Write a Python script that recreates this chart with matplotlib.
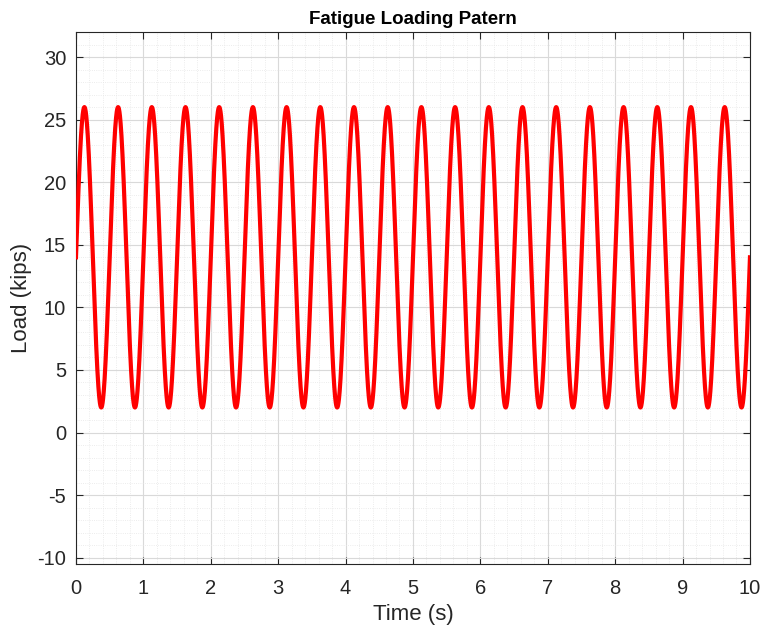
import numpy as np
import matplotlib
matplotlib.use('Agg')
import matplotlib.pyplot as plt
from matplotlib.ticker import MultipleLocator

# Loading: sinusoid between 2 and 26 kips, 20 cycles in 10 s
mean_load = 14.0
load_amplitude = 12.0
load_freq = 2.0
duration = 10.0

time = np.linspace(0, duration, 4001)
load = mean_load + load_amplitude * np.sin(2 * np.pi * load_freq * time)

x_ticks = list(range(0, 11))
y_ticks = [-10, -5, 0, 5, 10, 15, 20, 25, 30]

plt.rcParams['font.family'] = ['Liberation Sans', 'DejaVu Sans']
plt.rcParams['axes.unicode_minus'] = False

fig = plt.figure(figsize=(7.62, 6.31), dpi=100)
ax = fig.add_axes([0.0997, 0.1062, 0.8845, 0.8431])

ax.plot(time, load, color='#ff0000', linewidth=3.0, zorder=3)

ax.set_xlim(0, 10)
ax.set_ylim(-10.5, 32)
ax.set_xticks(x_ticks)
ax.set_yticks(y_ticks)
ax.xaxis.set_minor_locator(MultipleLocator(0.2))
ax.yaxis.set_minor_locator(MultipleLocator(1))

ax.grid(which='major', color='#d9d9d9', linewidth=0.8, zorder=0)
ax.grid(which='minor', color='#e6e6e6', linewidth=0.6, linestyle=':', zorder=0)
ax.set_axisbelow(True)

ax.tick_params(which='major', direction='in', top=True, right=True,
               length=5, width=0.8, color='#262626', labelsize=14.5,
               labelcolor='#262626')
ax.tick_params(axis='x', which='major', pad=11)
ax.tick_params(axis='y', which='major', pad=7)
ax.tick_params(which='minor', length=0)
for s in ax.spines.values():
    s.set_color('#262626')
    s.set_linewidth(0.8)

ax.set_xlabel('Time (s)', fontsize=16, color='#262626', labelpad=4)
ax.set_ylabel('Load (kips)', fontsize=16, color='#262626', labelpad=4)
ax.set_title('Fatigue Loading Patern', fontsize=13.5, fontweight='bold', color='black', pad=6)

fig.savefig('out.png', dpi=100)
